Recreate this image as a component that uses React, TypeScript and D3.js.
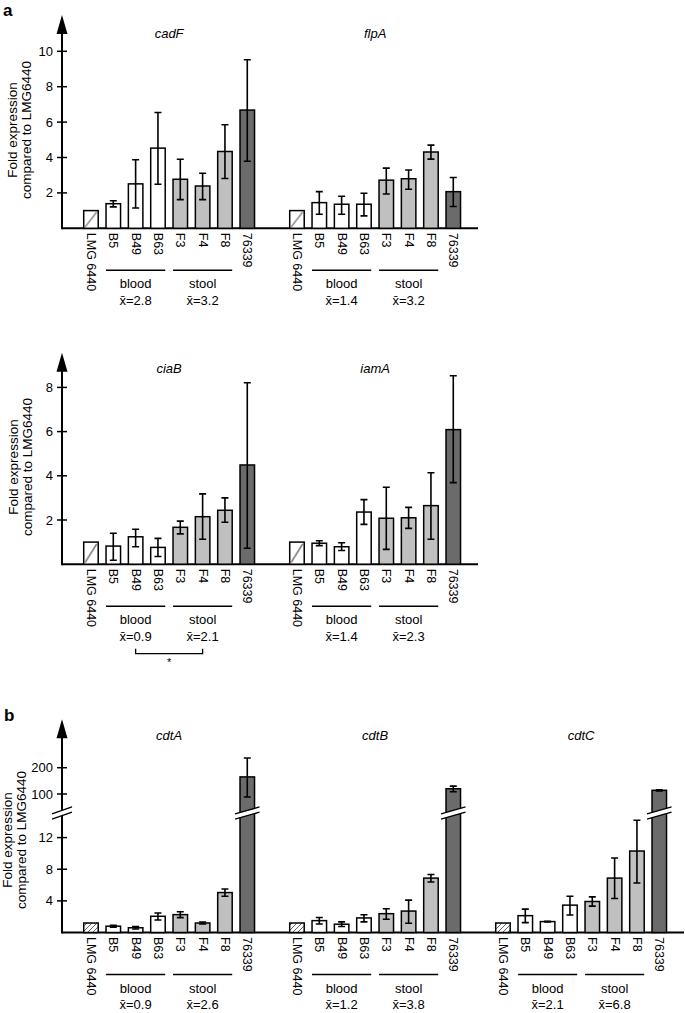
import React, { useEffect, useRef } from 'react';
import * as d3 from 'd3';

const FONT = '"Liberation Sans", Arial, Helvetica, sans-serif';

const strains = ['LMG 6440', 'B5', 'B49', 'B63', 'F3', 'F4', 'F8', '76339'];
const strainKind = ['ref', 'blood', 'blood', 'blood', 'stool', 'stool', 'stool', 'clinical'];

// panel a, top row
const cadF = [1.0, 1.39, 2.51, 4.53, 2.77, 2.39, 4.34, 6.68];
const cadFLow = [null, 1.21, 1.15, 2.49, 1.62, 1.62, 2.81, 3.79];
const cadFHigh = [null, 1.56, 3.87, 6.54, 3.9, 3.11, 5.85, 9.52];

const flpA = [1.0, 1.45, 1.36, 1.36, 2.72, 2.8, 4.31, 2.07];
const flpALow = [null, 0.79, 0.79, 0.7, 1.94, 2.21, 3.91, 1.23];
const flpAHigh = [null, 2.07, 1.81, 1.98, 3.4, 3.29, 4.7, 2.87];

// panel a, bottom row
const ciaB = [1.0, 0.82, 1.24, 0.76, 1.67, 2.15, 2.44, 4.49];
const ciaBLow = [null, 0.18, 0.79, 0.35, 1.37, 1.13, 1.9, 0.72];
const ciaBHigh = [null, 1.4, 1.58, 1.17, 1.95, 3.18, 3.0, 8.21];

const iamA = [1.0, 0.95, 0.79, 2.36, 2.08, 2.1, 2.65, 6.09];
const iamALow = [null, 0.84, 0.62, 1.8, 0.67, 1.62, 1.13, 3.69];
const iamAHigh = [null, 1.06, 0.97, 2.92, 3.48, 2.57, 4.14, 8.53];

// panel b
const cdtA = [1.2, 0.8, 0.6, 2.05, 2.26, 1.2, 5.05, 165];
const cdtALow = [null, 0.68, 0.45, 1.58, 1.88, 1.08, 4.58, 88.6];
const cdtAHigh = [null, 0.92, 0.75, 2.46, 2.63, 1.32, 5.5, 237];

const cdtB = [1.2, 1.5, 1.05, 1.84, 2.38, 2.71, 6.88, 120];
const cdtBLow = [null, 1.08, 0.75, 1.34, 1.67, 1.17, 6.38, 108.7];
const cdtBHigh = [null, 1.9, 1.34, 2.25, 3.0, 4.1, 7.34, 130];

const cdtC = [1.2, 2.13, 1.38, 3.46, 3.92, 6.88, 10.3, 114];
const cdtCLow = [null, 1.25, 1.33, 2.21, 3.34, 4.3, 6.25, 112];
const cdtCHigh = [null, 2.96, 1.43, 4.59, 4.5, 9.42, 14.2, 116];

const bloodMeansA1 = ['2.8', '1.4'];
const stoolMeansA1 = ['3.2', '3.2'];
const bloodMeansA2 = ['0.9', '1.4'];
const stoolMeansA2 = ['2.1', '2.3'];
const bloodMeansB = ['0.9', '1.2', '2.1'];
const stoolMeansB = ['2.6', '3.8', '6.8'];

const ticksA1 = [2, 4, 6, 8, 10];
const ticksA2 = [2, 4, 6, 8];
const ticksBLow = [4, 8, 12];
const ticksBHigh = [100, 200];

const AXIS_X = 62;
const STEP = 22.33;
const GROUP_W = STEP * 8;
const GROUP_STEP = 206;
const GAP = GROUP_STEP - GROUP_W;
const GROUP_LEFT = 79.8;

const fills = { ref: 'url(#hatchA)', blood: '#ffffff', stool: '#c0c0c0', clinical: '#6b6b6b' };

function drawPanel(svg, p) {
  const g = svg.append('g');
  const n = p.genes.length;
  const groupX = d3.scaleBand().domain(p.genes)
    .range([GROUP_LEFT, GROUP_LEFT + n * GROUP_STEP - GAP])
    .paddingInner(GAP / GROUP_STEP).paddingOuter(0);
  const x = d3.scaleBand().domain(strains).range([0, GROUP_W]).paddingInner(0.35).paddingOuter(0.175);
  const bw = x.bandwidth();
  const y = p.y;

  // baseline
  g.append('line').attr('x1', AXIS_X).attr('x2', p.xEnd).attr('y1', p.baseline).attr('y2', p.baseline)
    .attr('stroke', '#000').attr('stroke-width', 2);

  p.genes.forEach((gene, gi) => {
    const gx = groupX(gene);
    const [vals, lo, hi] = p.data[gi];

    g.append('text').attr('x', gx + GROUP_W / 2).attr('y', p.titleY).attr('text-anchor', 'middle')
      .attr('font-size', 13).attr('font-style', 'italic').text(gene);

    g.selectAll(null).data(strains).enter().append('rect')
      .attr('x', (d) => gx + x(d))
      .attr('y', (d, i) => y(vals[i]))
      .attr('width', bw)
      .attr('height', (d, i) => p.baseline - y(vals[i]))
      .attr('fill', (d, i) => (strainKind[i] === 'ref' ? p.hatch : fills[strainKind[i]]))
      .attr('stroke', '#000').attr('stroke-width', 1.5);

    strains.forEach((s, i) => {
      if (lo[i] == null) return;
      const cx = gx + x(s) + bw / 2;
      g.append('path')
        .attr('d', `M${cx},${y(lo[i])}V${y(hi[i])}M${cx - 3.5},${y(lo[i])}H${cx + 3.5}M${cx - 3.5},${y(hi[i])}H${cx + 3.5}`)
        .attr('stroke', '#000').attr('stroke-width', 1.6).attr('fill', 'none');
      if (p.breakY && vals[i] > p.breakValue) {
        drawBreak(g, gx + x(s) - 5, gx + x(s) + bw + 5, p.breakY);
      }
    });

    // strain labels
    g.selectAll(null).data(strains).enter().append('text')
      .attr('transform', (d) => `translate(${gx + x(d) + bw / 2},${p.baseline + 4.5}) rotate(90)`)
      .attr('dominant-baseline', 'central')
      .attr('font-size', 12.5).text((d) => d);

    // group lines
    const lineY = p.baseline + 42;
    const groups = [
      ['B5', 'B63', 'blood', p.blood[gi]],
      ['F3', 'F8', 'stool', p.stool[gi]],
    ];
    groups.forEach(([a, b, name, mean]) => {
      const x1 = gx + x(a);
      const x2 = gx + x(b) + bw;
      g.append('line').attr('x1', x1).attr('x2', x2).attr('y1', lineY).attr('y2', lineY)
        .attr('stroke', '#000').attr('stroke-width', 1.6);
      g.append('text').attr('x', (x1 + x2) / 2).attr('y', lineY + 18).attr('text-anchor', 'middle')
        .attr('font-size', 13).text(name);
      g.append('text').attr('x', (x1 + x2) / 2).attr('y', lineY + 34.5).attr('text-anchor', 'middle')
        .attr('font-size', 13).text(`x\u0304=${mean}`);
    });

    if (p.bracket && gi === 0) {
      const bx1 = gx + x('B49') + bw / 2;
      const bx2 = gx + x('F4') + bw / 2;
      const by = p.baseline + 89.5;
      g.append('path').attr('d', `M${bx1},${by - 5}V${by}H${bx2}V${by - 5}`)
        .attr('stroke', '#000').attr('stroke-width', 1.3).attr('fill', 'none');
      g.append('text').attr('x', (bx1 + bx2) / 2).attr('y', by + 12).attr('text-anchor', 'middle')
        .attr('font-size', 11).text('*');
    }
  });

  // y axis with arrow
  g.append('line').attr('x1', AXIS_X).attr('x2', AXIS_X).attr('y1', p.baseline + 1).attr('y2', p.arrowTip + 15)
    .attr('stroke', '#000').attr('stroke-width', 2);
  g.append('path')
    .attr('d', `M${AXIS_X},${p.arrowTip}L${AXIS_X - 5.5},${p.arrowTip + 19}L${AXIS_X + 5.5},${p.arrowTip + 19}Z`)
    .attr('fill', '#000');

  p.ticks.forEach((t) => {
    g.append('line').attr('x1', AXIS_X - 5).attr('x2', AXIS_X + 5).attr('y1', y(t)).attr('y2', y(t))
      .attr('stroke', '#000').attr('stroke-width', 1.5);
    g.append('text').attr('x', AXIS_X - 9).attr('y', y(t)).attr('dominant-baseline', 'central')
      .attr('text-anchor', 'end').attr('font-size', 13).text(t);
  });

  if (p.breakY) drawBreak(g, AXIS_X - 10, AXIS_X + 10, p.breakY);

  // y axis title
  const t = g.append('text')
    .attr('transform', `translate(${p.labelX},${p.labelY}) rotate(-90)`)
    .attr('text-anchor', 'middle').attr('font-size', 13.5);
  t.append('tspan').attr('x', 0).attr('dy', 0).text('Fold expression');
  t.append('tspan').attr('x', 0).attr('dy', 14).text('compared to LMG6440');

  if (p.letter) {
    g.append('text').attr('x', p.letterX).attr('y', p.letterY).attr('font-size', 17)
      .attr('font-weight', 'bold').text(p.letter);
  }
}

function drawBreak(g, xl, xr, yb) {
  const h = 3.5;
  const gap = 2.6;
  g.append('path')
    .attr('d', `M${xl},${yb + h - gap}L${xr},${yb - h - gap}L${xr},${yb - h + gap}L${xl},${yb + h + gap}Z`)
    .attr('fill', '#fff');
  g.append('path')
    .attr('d', `M${xl},${yb + h - gap}L${xr},${yb - h - gap}M${xl},${yb + h + gap}L${xr},${yb - h + gap}`)
    .attr('stroke', '#000').attr('stroke-width', 1.4).attr('fill', 'none');
}

const App = () => {
  const ref = useRef(null);

  useEffect(() => {
    const root = d3.select(ref.current);
    root.selectAll('*').remove();
    const svg = root.append('svg')
      .attr('width', 685).attr('height', 1013)
      .style('position', 'absolute').style('left', '0px').style('top', '0px')
      .style('background', '#fff')
      .style('font-family', FONT);

    const defs = svg.append('defs');
    const patA = defs.append('pattern').attr('id', 'hatchA')
      .attr('patternUnits', 'objectBoundingBox').attr('patternContentUnits', 'objectBoundingBox')
      .attr('width', 1).attr('height', 1);
    patA.append('rect').attr('width', 1).attr('height', 1).attr('fill', '#fff');
    patA.append('path').attr('d', 'M0.1,0.92L0.9,0.08').attr('stroke', '#555').attr('stroke-width', 0.07);

    const patB = defs.append('pattern').attr('id', 'hatchB')
      .attr('patternUnits', 'userSpaceOnUse').attr('width', 5).attr('height', 5);
    patB.append('rect').attr('width', 5).attr('height', 5).attr('fill', '#fff');
    patB.append('path').attr('d', 'M-1,1L1,-1M0,5L5,0M4,6L6,4').attr('stroke', '#666').attr('stroke-width', 1);

    drawPanel(svg, {
      genes: ['cadF', 'flpA'],
      data: [[cadF, cadFLow, cadFHigh], [flpA, flpALow, flpAHigh]],
      y: d3.scaleLinear().domain([0, 10]).range([228.3, 51.3]),
      ticks: ticksA1,
      baseline: 228.3,
      arrowTip: 15,
      xEnd: 478,
      titleY: 37.5,
      labelX: 17,
      labelY: 130,
      blood: bloodMeansA1,
      stool: stoolMeansA1,
      hatch: 'url(#hatchA)',
      letter: 'a', letterX: 3, letterY: 16,
    });

    drawPanel(svg, {
      genes: ['ciaB', 'iamA'],
      data: [[ciaB, ciaBLow, ciaBHigh], [iamA, iamALow, iamAHigh]],
      y: d3.scaleLinear().domain([0, 8]).range([564.2, 387.4]),
      ticks: ticksA2,
      baseline: 564.2,
      arrowTip: 352.7,
      xEnd: 478,
      titleY: 372.5,
      labelX: 18,
      labelY: 467,
      blood: bloodMeansA2,
      stool: stoolMeansA2,
      hatch: 'url(#hatchA)',
      bracket: true,
      letter: '', letterX: 0, letterY: 0,
    });

    const low = d3.scaleLinear().domain([0, 12]).range([932.5, 837.6]);
    const high = d3.scaleLinear().domain([100, 200]).range([794, 767.7]);
    const yB = (v) => (v <= 20 ? low(v) : high(v));
    drawPanel(svg, {
      genes: ['cdtA', 'cdtB', 'cdtC'],
      data: [[cdtA, cdtALow, cdtAHigh], [cdtB, cdtBLow, cdtBHigh], [cdtC, cdtCLow, cdtCHigh]],
      y: yB,
      ticks: [...ticksBLow, ...ticksBHigh],
      baseline: 932.5,
      arrowTip: 719.3,
      xEnd: 684,
      titleY: 739.5,
      labelX: 12,
      labelY: 840,
      blood: bloodMeansB,
      stool: stoolMeansB,
      hatch: 'url(#hatchB)',
      breakY: 813,
      breakValue: 20,
      letter: 'b', letterX: 4, letterY: 721,
    });
  }, []);

  return <div ref={ref} />;
};

export default App;
